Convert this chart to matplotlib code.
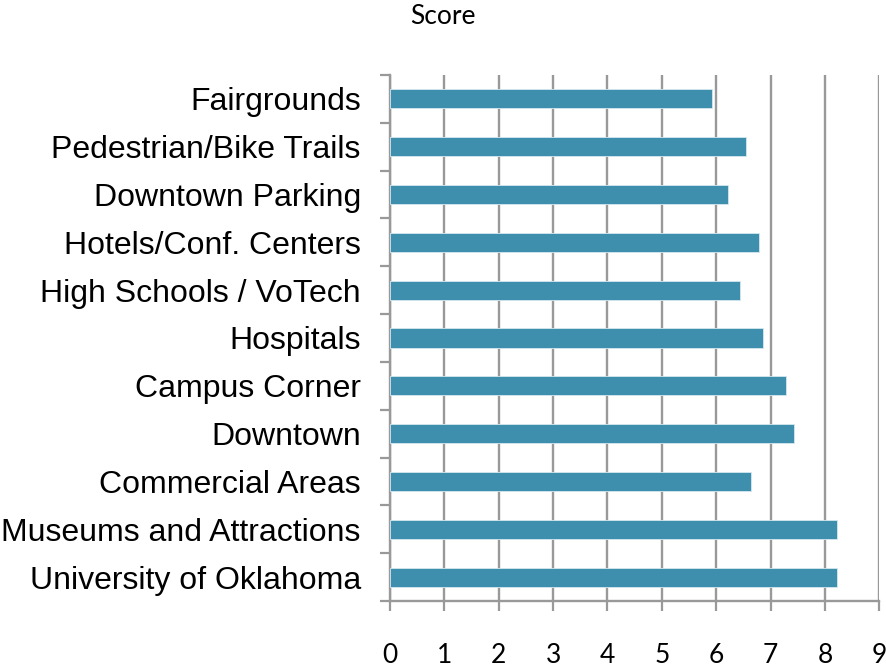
import numpy as np
import matplotlib.pyplot as plt
from matplotlib.ticker import FixedLocator

########################################################
# Data
########################################################

categories = [
    "Fairgrounds",
    "Pedestrian/Bike Trails",
    "Downtown Parking",
    "Hotels/Conf. Centers",
    "High Schools / VoTech",
    "Hospitals",
    "Campus Corner",
    "Downtown",
    "Commercial Areas",
    "Museums and Attractions",
    "University of Oklahoma",
]
scores = [5.93, 6.54, 6.21, 6.79, 6.43, 6.86, 7.29, 7.43, 6.64, 8.22, 8.22]
x_ticks = [0, 1, 2, 3, 4, 5, 6, 7, 8, 9]

BAR_COLOR = "#3E8EAD"
GRID_COLOR = "#999999"

########################################################
# Plot
########################################################

fig = plt.figure(figsize=(8.86, 6.70), dpi=100)
ax = fig.add_axes([390 / 886, 1 - 601 / 670, 489.3 / 886, 526 / 670])

# first category at the top
y = np.arange(len(categories))[::-1]
ax.barh(y, scores, height=0.4, color=BAR_COLOR, edgecolor="#D6E8F0",
        linewidth=0.6, zorder=3)

ax.set_xlim(0, 9)
ax.set_ylim(-0.5, len(categories) - 0.5)

ax.set_xticks(x_ticks)
ax.set_xticklabels([str(t) for t in x_ticks], family=["Lato", "DejaVu Sans"],
                   fontsize=19)
ax.tick_params(axis="x", direction="out", length=7.2, width=1.6,
               color=GRID_COLOR, pad=23)

ax.set_yticks(y)
ax.set_yticklabels(categories, family=["Liberation Sans", "DejaVu Sans"],
                   fontsize=23)
ax.tick_params(axis="y", which="major", length=0, pad=21)
ax.yaxis.set_minor_locator(FixedLocator(np.arange(-0.5, len(categories), 1.0)))
ax.tick_params(axis="y", which="minor", direction="out", length=7.2,
               width=1.6, color=GRID_COLOR)

ax.grid(axis="x", color=GRID_COLOR, linewidth=1.7, zorder=0)
ax.set_axisbelow(True)

for side in ["top", "right"]:
    ax.spines[side].set_visible(False)
for side in ["left", "bottom"]:
    ax.spines[side].set_color(GRID_COLOR)
    ax.spines[side].set_linewidth(1.7)

fig.text(443 / 886, 1 - 17 / 670, "Score", ha="center", va="center",
         family=["Lato", "DejaVu Sans"], fontsize=19)

fig.savefig("out.png", dpi=100)
